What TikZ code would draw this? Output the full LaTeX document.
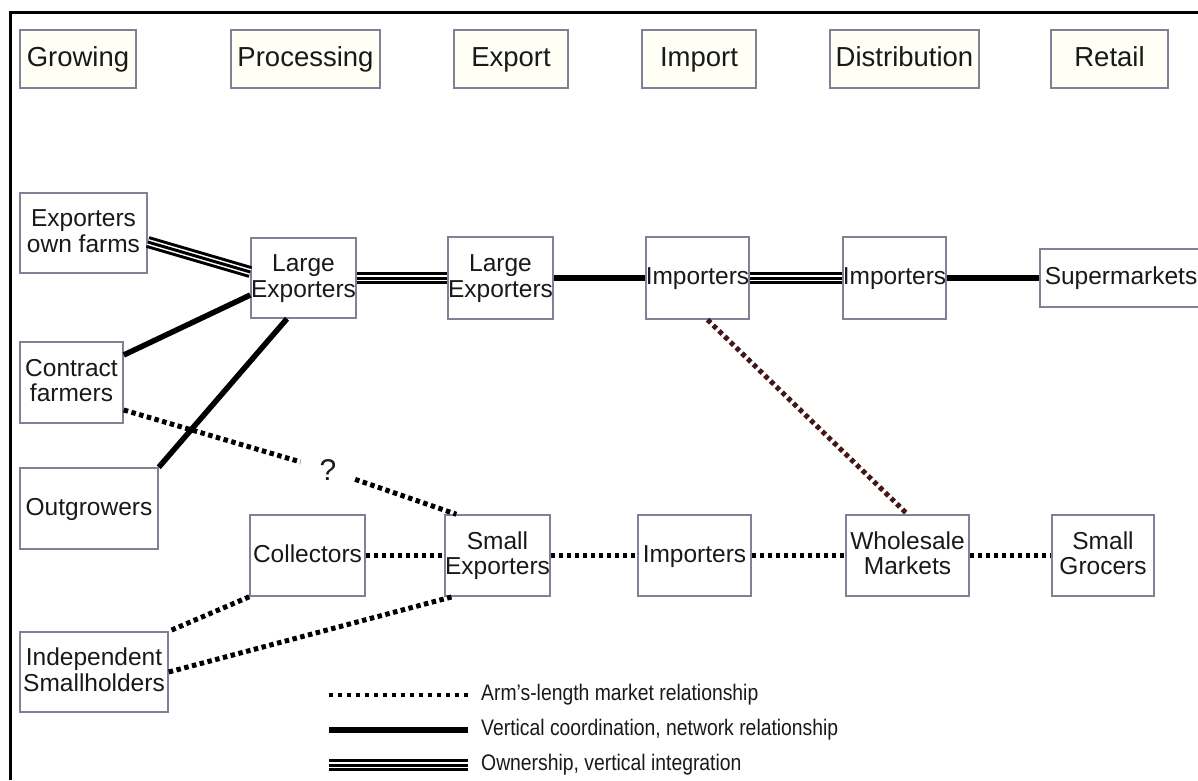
\documentclass[tikz,border=0pt]{standalone}
\usepackage{fontspec}
\setmainfont{Liberation Sans}
\newfontfamily\legendfont[FakeStretch=0.86]{Liberation Sans}
\usetikzlibrary{positioning,calc}
\definecolor{boxline}{RGB}{128,128,150}
\definecolor{boxfill}{RGB}{255,255,246}
\definecolor{darkdots}{RGB}{70,22,22}
\tikzset{
    stage/.style={draw=boxline, line width=1.5pt, fill=boxfill, inner sep=0pt,
        minimum height=58pt, text height=20pt, text depth=5.5pt, text=black!90,
        font=\fontsize{27.5}{30}\selectfont},
    firm/.style={draw=boxline, line width=1.5pt, fill=white, inner sep=0pt,
        minimum height=81pt, align=center, text height=18pt, text depth=5pt,
        text=black!90, font=\fontsize{24.5}{25.5}\selectfont},
    twolines/.style={text height=43.5pt},
    armlength/.style={line width=5pt, dash pattern=on 4.5pt off 3.5pt},
    network/.style={line width=5.5pt},
    ownership/.style={line width=12pt,
        postaction={draw=white, line width=6pt},
        postaction={draw=black, line width=3pt}},
    legendtext/.style={anchor=west, inner sep=0pt, text=black!90,
        font=\legendfont\fontsize{22.5}{24}\selectfont}
}
\begin{document}
\begin{tikzpicture}[x=1pt, y=-1pt]
\useasboundingbox (0,0) rectangle (1198,780);
\draw[line width=3pt] (10,780) -- (10,12) -- (1199,12);

\node[stage, minimum width=116pt] (growing) at (78,59) {Growing};
\node[stage, minimum width=149pt] (processing) at (305.5,59) {Processing};
\node[stage, minimum width=114pt] (export) at (511,59) {Export};
\node[stage, minimum width=114pt] (import) at (699,59) {Import};
\node[stage, minimum width=149pt] (distribution) at (904.5,59) {Distribution};
\node[stage, minimum width=117pt] (retail) at (1109.5,59) {Retail};

\node[firm, twolines, minimum width=127pt, minimum height=80pt] (ownfarms) at (83.5,233) {Exporters\\own farms};
\node[firm, twolines, minimum width=103pt, minimum height=80pt] (largeexp) at (303.5,278) {Large\\Exporters};
\node[firm, twolines, minimum width=105pt, minimum height=82pt] (largeexp2) at (500.5,278) {Large\\Exporters};
\node[firm, minimum width=103pt, minimum height=82pt] (importers) at (697.5,278) {Importers};
\node[firm, minimum width=103pt, minimum height=82pt] (importers2) at (894.5,278) {Importers};
\node[firm, minimum width=162pt, minimum height=58pt] (supermarkets) at (1121,278) {Supermarkets};

\node[firm, twolines, minimum width=103pt] (contract) at (71.5,382.5) {Contract\\farmers};
\node[firm, minimum width=138pt] (outgrowers) at (89,508.5) {Outgrowers};
\node[firm, minimum width=115pt] (collectors) at (307.5,555.5) {Collectors};
\node[firm, twolines, minimum width=101pt] (smallexp) at (497.5,555.5) {Small\\Exporters};
\node[firm, minimum width=113pt] (importers3) at (694.5,555.5) {Importers};
\node[firm, twolines, minimum width=123pt] (wholesale) at (907.5,555.5) {Wholesale\\Markets};
\node[firm, twolines, minimum width=102pt] (grocers) at (1103,555.5) {Small\\Grocers};
\node[firm, twolines, minimum width=148pt, minimum height=80pt] (smallholders) at (94,672) {Independent\\Smallholders};

\node[circle, minimum size=57pt, inner sep=0pt, text=black!90,
    font=\fontsize{30}{32}\selectfont] (unsure) at (328,470) {?};

\draw[ownership] ([yshift=-9pt]ownfarms.east) -- ([yshift=6pt]largeexp.west);
\draw[ownership] (largeexp.east) -- (largeexp2.west);
\draw[network] (largeexp2.east) -- (importers.west);
\draw[ownership] (importers.east) -- (importers2.west);
\draw[network] (importers2.east) -- (supermarkets.west);
\draw[network] ([yshift=27.5pt]contract.east) -- ([yshift=-17pt]largeexp.west);
\draw[network] (outgrowers.north east) -- ([xshift=-16.5pt]largeexp.south);

\draw[armlength] ([yshift=-27.5pt]contract.east) -- (unsure);
\draw[armlength] (unsure) -- ([xshift=12pt]smallexp.north west);
\draw[armlength, darkdots] ([xshift=10pt]importers.south) -- (wholesale.north);
\draw[armlength] (collectors.east) -- (smallexp.west);
\draw[armlength] (smallexp.east) -- (importers3.west);
\draw[armlength] (importers3.east) -- (wholesale.west);
\draw[armlength] (wholesale.east) -- (grocers.west);
\draw[armlength] (collectors.south west) -- (smallholders.north east);
\draw[armlength] (smallholders.east) -- ([xshift=8pt]smallexp.south west);

\coordinate (key1) at (329,695);
\coordinate (key2) at (329,730);
\coordinate (key3) at (329,765);
\node[legendtext] (arm) at (481,695) {Arm’s-length market relationship};
\node[legendtext] (vert) at (481,730) {Vertical coordination, network relationship};
\node[legendtext] (own) at (481,765) {Ownership, vertical integration};
\draw[armlength, line width=4pt, dash pattern=on 4pt off 5pt] (key1) -- ([xshift=-13pt]arm.west);
\draw[network] (key2) -- ([xshift=-13pt]vert.west);
\draw[ownership] (key3) -- ([xshift=-13pt]own.west);
\end{tikzpicture}
\end{document}
